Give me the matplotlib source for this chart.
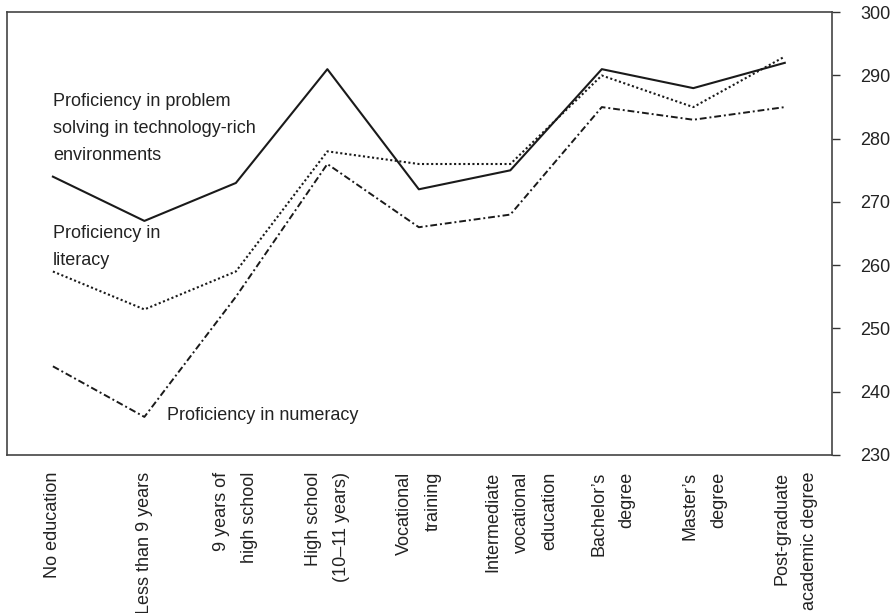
import matplotlib
matplotlib.use("Agg")
import matplotlib.pyplot as plt
import matplotlib.transforms as mtransforms

plt.rcParams['font.family'] = ['Liberation Sans', 'DejaVu Sans']

# Data
categories = ["No education", "Less than 9 years", "9 years of\nhigh school",
              "High school\n(10\u201311 years)", "Vocational\ntraining",
              "Intermediate\nvocational\neducation", "Bachelor\u2019s\ndegree",
              "Master\u2019s\ndegree", "Post-graduate\nacademic degree"]
problem_solving = [274, 267, 273, 291, 272, 275, 291, 288, 292]
literacy = [259, 253, 259, 278, 276, 276, 290, 285, 293]
numeracy = [244, 236, 255, 276, 266, 268, 285, 283, 285]
y_ticks = [230, 240, 250, 260, 270, 280, 290, 300]

fig = plt.figure(figsize=(8.95, 6.13), dpi=100)
ax = fig.add_axes([0.008, 0.258, 0.922, 0.722])

x = list(range(len(categories)))
ax.plot(x, problem_solving, color="#1a1a1a", linewidth=1.5, linestyle="-")
ax.plot(x, literacy, color="#1a1a1a", linewidth=1.5, linestyle=(0, (1, 1.2)))
ax.plot(x, numeracy, color="#1a1a1a", linewidth=1.4, linestyle=(0, (3.5, 1.5, 1, 1.5)))

ax.set_xlim(-0.5, 8.52)
ax.set_ylim(230, 300)

ax.yaxis.tick_right()
ax.set_yticks(y_ticks)
ax.tick_params(axis="y", direction="out", length=6, width=1, colors="#333333",
               labelsize=13, pad=14, labelcolor="#222222")
ax.set_xticks(x)
ax.set_xticklabels(categories, rotation=90, fontsize=13, color="#222222",
                   va="top", ha="center", multialignment="right", linespacing=1.85)
ax.tick_params(axis="x", length=0, pad=12)

# the right-hand labels sit a little right of their ticks in the original
shift = mtransforms.ScaledTranslation(0.11, 0, fig.dpi_scale_trans)
for lbl in ax.get_xticklabels()[5:]:
    lbl.set_transform(lbl.get_transform() + shift)

for s in ax.spines.values():
    s.set_color("#444444")
    s.set_linewidth(1.2)

ax.text(0, 287.3, "Proficiency in problem\nsolving in technology-rich\nenvironments",
        fontsize=13, color="#222222", va="top", ha="left", linespacing=1.8)
ax.text(0, 266.4, "Proficiency in\nliteracy",
        fontsize=13, color="#222222", va="top", ha="left", linespacing=1.8)
ax.text(1.25, 236.3, "Proficiency in numeracy",
        fontsize=13, color="#222222", va="center", ha="left")

fig.savefig("out.png", dpi=100)
